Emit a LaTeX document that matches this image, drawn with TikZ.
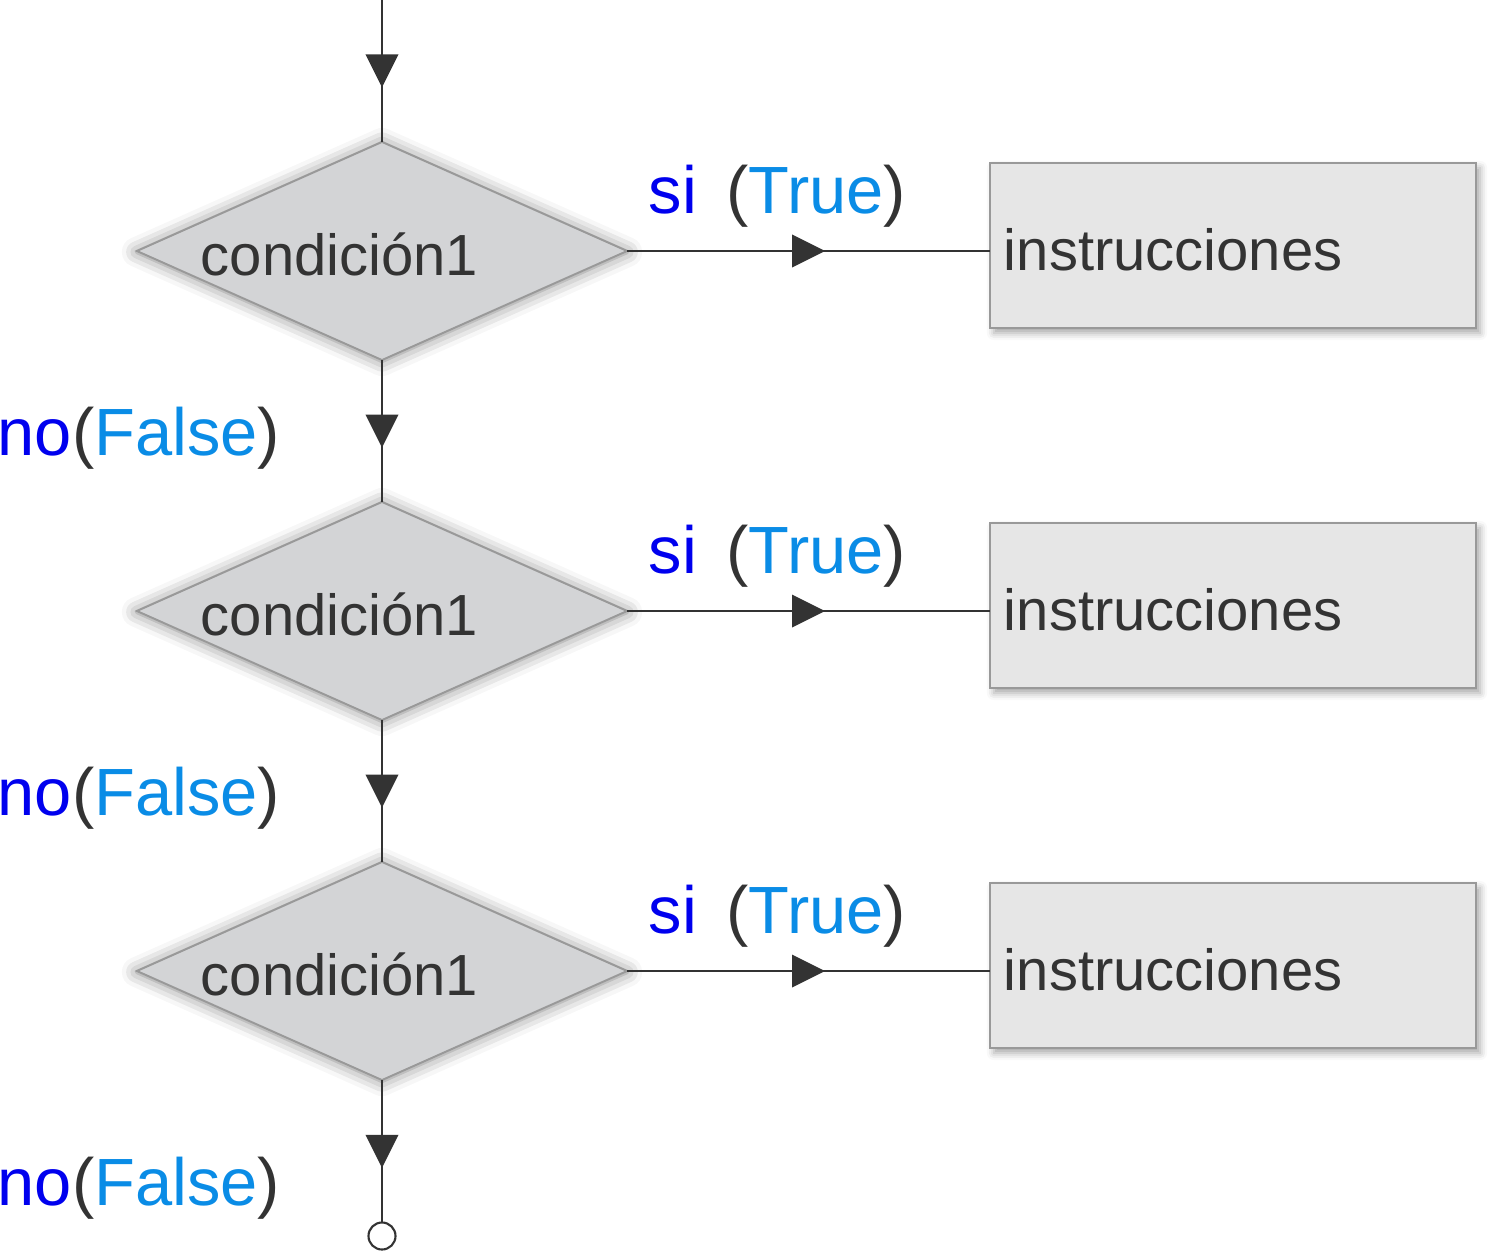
\documentclass[tikz,border=0pt]{standalone}
\usepackage{fontspec}
\setmainfont{Liberation Sans}
\usetikzlibrary{shapes.geometric, positioning, decorations.markings, shadows.blur}
\definecolor{ink}{HTML}{333333}
\definecolor{edge}{HTML}{999999}
\definecolor{condfill}{HTML}{D3D4D6}
\definecolor{instfill}{HTML}{E6E6E6}
\definecolor{yes}{HTML}{0000EE}
\definecolor{val}{HTML}{0A8CE6}
\newcommand{\sitrue}{\textcolor{yes}{si}\ \,\textcolor{ink}{(}\textcolor{val}{True}\textcolor{ink}{)}}
\newcommand{\nofalse}{\textcolor{yes}{no}\textcolor{ink}{(}\textcolor{val}{False}\textcolor{ink}{)}}

\begin{document}
\begin{tikzpicture}[x=0.01cm, y=-0.01cm,
    cond/.style={diamond, draw=edge, fill=condfill, line width=0.55pt, minimum width=4.9cm, minimum height=2.18cm, inner sep=0pt, outer sep=0pt,
        blur shadow={shadow xshift=0pt, shadow yshift=-0.01cm, shadow blur radius=0.15cm, shadow opacity=50}},
    condtext/.style={xshift=-0.425cm, yshift=-0.035cm, text=ink, font=\fontsize{16.5pt}{19pt}\selectfont},
    inst/.style={rectangle, draw=edge, fill=instfill, line width=0.7pt, minimum width=4.86cm, minimum height=1.65cm, text width=4.58cm, text height=0.49cm, text depth=0pt, inner xsep=0.14cm, outer sep=0pt, align=left, text=ink, font=\fontsize{16.5pt}{19pt}\selectfont,
        blur shadow={shadow xshift=0.04cm, shadow yshift=-0.05cm, shadow blur radius=0.07cm, shadow opacity=35}},
    answer/.style={anchor=base west, inner sep=0pt, font=\fontsize{19pt}{22pt}\selectfont},
    flow/.style={draw=ink, line width=0.7pt, postaction={decorate},
        decoration={markings, mark=at position 0.5 with {\fill[ink] (0.165cm,0) -- (-0.165cm,0.165cm) -- (-0.165cm,-0.165cm) -- cycle;}}}]
    \useasboundingbox (0,0) rectangle (1509,1251);

    \node [cond, label={[condtext]center:condición1}] (c1) at (382,251) {};
    \node [cond, label={[condtext]center:condición1}] (c2) at (382,611) {};
    \node [cond, label={[condtext]center:condición1}] (c3) at (382,971) {};

    \node [inst] (i1) at (1233,245.5) {instrucciones};
    \node [inst] (i2) at (1233,605.5) {instrucciones};
    \node [inst] (i3) at (1233,965.5) {instrucciones};

    \coordinate [above=1.42cm of c1.north] (in);
    \node [circle, draw=ink, fill=white, line width=0.6pt, minimum size=0.27cm, inner sep=0pt, outer sep=0pt] (out) at (382,1236) {};

    \draw [flow] (in) -- (c1.north);
    \draw [flow] (c1.south) -- (c2.north);
    \draw [flow] (c2.south) -- (c3.north);
    \draw [flow] (c3.south) -- (out.north);
    \draw [flow] (c1.east) -- (c1.east -| i1.west);
    \draw [flow] (c2.east) -- (c2.east -| i2.west);
    \draw [flow] (c3.east) -- (c3.east -| i3.west);

    \node [answer] (s1) at (648,213) {\sitrue};
    \node [answer] (s2) at (648,573) {\sitrue};
    \node [answer] (s3) at (648,933) {\sitrue};
    \node [answer] (n1) at (-3,455) {\nofalse};
    \node [answer] (n2) at (-3,815) {\nofalse};
    \node [answer] (n3) at (-3,1205) {\nofalse};
\end{tikzpicture}
\end{document}
